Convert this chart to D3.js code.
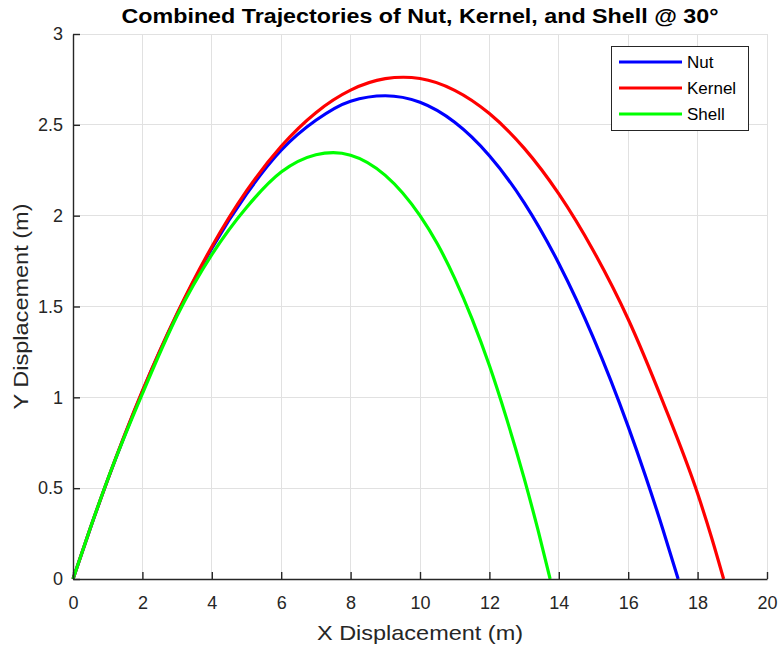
<!DOCTYPE html>
<html>
<head>
<meta charset="utf-8">
<script src="https://cdn.jsdelivr.net/npm/d3@7"></script>
<style>
  html, body { margin: 0; padding: 0; background: #ffffff; }
  svg { display: block; font-family: "Liberation Sans", Arial, Helvetica, sans-serif; }
</style>
</head>
<body>
<svg id="chart" width="779" height="645"></svg>
<script>
// ---- data ----
const seriesNames = ["Nut", "Kernel", "Shell"];
const seriesColors = ["#0000ff", "#ff0000", "#00ff00"];

const nutX = [0, 0.5, 1, 2, 3, 4, 5, 6, 7, 8, 9, 10, 11, 12, 13, 14, 15, 16, 16.5, 17, 17.44];
const nutY = [0, 0.28, 0.546, 1.032, 1.457, 1.82, 2.119, 2.36, 2.525, 2.63, 2.66, 2.624, 2.514, 2.33, 2.072, 1.737, 1.326, 0.839, 0.566, 0.273, 0];

const kernelX = [0, 0.5, 1, 2, 3, 4, 5, 6, 7, 8, 9, 9.52, 10, 11, 12, 13, 14, 15, 16, 17, 18, 18.4, 18.75];
const kernelY = [0, 0.281, 0.547, 1.035, 1.462, 1.829, 2.136, 2.382, 2.567, 2.691, 2.754, 2.762, 2.755, 2.69, 2.562, 2.372, 2.12, 1.806, 1.43, 0.975, 0.47, 0.23, 0];

const shellX = [0, 0.5, 1, 2, 3, 4, 5, 6, 7, 7.5, 8, 9, 10, 10.5, 11, 11.5, 12, 12.5, 13, 13.4, 13.75];
const shellY = [0, 0.281, 0.548, 1.02, 1.449, 1.785, 2.045, 2.24, 2.335, 2.347, 2.333, 2.222, 2.0, 1.845, 1.655, 1.432, 1.175, 0.88, 0.555, 0.27, 0];

const xTicks = [0, 2, 4, 6, 8, 10, 12, 14, 16, 18, 20];
const yTicks = [0, 0.5, 1, 1.5, 2, 2.5, 3];
const titleText = "Combined Trajectories of Nut, Kernel, and Shell @ 30°";
const xLabelText = "X Displacement (m)";
const yLabelText = "Y Displacement (m)";

// ---- layout ----
const plot = { left: 73, right: 767, top: 34, bottom: 579 };
const svg = d3.select("#chart");
const axisColor = "#262626";

const x = d3.scaleLinear().domain([0, 20]).range([plot.left, plot.right]);
const y = d3.scaleLinear().domain([0, 3]).range([plot.bottom, plot.top]);

// grid
const grid = svg.append("g");
grid.selectAll("line.gx").data(xTicks).enter().append("line")
  .attr("x1", d => x(d)).attr("x2", d => x(d))
  .attr("y1", plot.top).attr("y2", plot.bottom)
  .attr("stroke", "#e1e1e1").attr("stroke-width", 1).attr("shape-rendering", "crispEdges");
grid.selectAll("line.gy").data(yTicks).enter().append("line")
  .attr("y1", d => y(d)).attr("y2", d => y(d))
  .attr("x1", plot.left).attr("x2", plot.right)
  .attr("stroke", "#e1e1e1").attr("stroke-width", 1).attr("shape-rendering", "crispEdges");

// curves
const series = [
  { xs: nutX, ys: nutY },
  { xs: kernelX, ys: kernelY },
  { xs: shellX, ys: shellY }
];
const line = d3.line().x(d => x(d[0])).y(d => y(d[1])).curve(d3.curveMonotoneX);
const curves = svg.append("g");
series.forEach((s, i) => {
  const pts = s.xs.map((v, k) => [v, s.ys[k]]);
  curves.append("path").datum(pts)
    .attr("d", line)
    .attr("fill", "none")
    .attr("stroke", seriesColors[i])
    .attr("stroke-width", 3.2)
    .attr("stroke-linejoin", "round");
});

// axes (ticks inward, no box)
const xAxis = d3.axisBottom(x).tickValues(xTicks).tickSizeInner(-7).tickSizeOuter(0).tickPadding(14)
  .tickFormat(d3.format("d"));
const yAxis = d3.axisLeft(y).tickValues(yTicks).tickSizeInner(-7).tickSizeOuter(0).tickPadding(14)
  .tickFormat(d => d3.format("~g")(d));

const gx = svg.append("g").attr("transform", `translate(0,${plot.bottom})`).call(xAxis);
const gy = svg.append("g").attr("transform", `translate(${plot.left},0)`).call(yAxis);
[gx, gy].forEach(g => {
  g.select(".domain").attr("stroke", axisColor).attr("stroke-width", 1.4);
  g.selectAll(".tick line").attr("stroke", axisColor).attr("stroke-width", 1.4);
  g.selectAll(".tick text").attr("fill", axisColor)
    .style("font-family", '"Liberation Sans", Arial, sans-serif').style("font-size", "18px");
});
gx.selectAll(".tick text").attr("dy", "0.71em").attr("y", 17);
gy.selectAll(".tick text").attr("x", -10);

// title
svg.append("text")
  .attr("x", (plot.left + plot.right) / 2).attr("y", 23)
  .attr("text-anchor", "middle")
  .attr("fill", "#000")
  .attr("textLength", 597).attr("lengthAdjust", "spacingAndGlyphs")
  .style("font-weight", "bold").style("font-size", "20px")
  .text(titleText);

// axis labels
svg.append("text")
  .attr("x", (plot.left + plot.right) / 2).attr("y", 640)
  .attr("text-anchor", "middle").attr("fill", axisColor)
  .attr("textLength", 206).attr("lengthAdjust", "spacingAndGlyphs")
  .style("font-size", "21px")
  .text(xLabelText);
svg.append("text")
  .attr("transform", `translate(28,${(plot.top + plot.bottom) / 2}) rotate(-90)`)
  .attr("text-anchor", "middle").attr("fill", axisColor)
  .attr("textLength", 206).attr("lengthAdjust", "spacingAndGlyphs")
  .style("font-size", "21px")
  .text(yLabelText);

// legend
const leg = svg.append("g");
leg.append("rect")
  .attr("x", 611.5).attr("y", 46.5).attr("width", 137).attr("height", 84)
  .attr("fill", "#fff").attr("stroke", axisColor).attr("stroke-width", 1);
seriesNames.forEach((name, i) => {
  const yy = 62 + i * 26;
  leg.append("line")
    .attr("x1", 619).attr("x2", 682).attr("y1", yy).attr("y2", yy)
    .attr("stroke", seriesColors[i]).attr("stroke-width", 3.2);
  leg.append("text")
    .attr("x", 687).attr("y", yy).attr("dy", "0.36em")
    .attr("fill", "#000").style("font-size", "17px")
    .text(name);
});
</script>
</body>
</html>
